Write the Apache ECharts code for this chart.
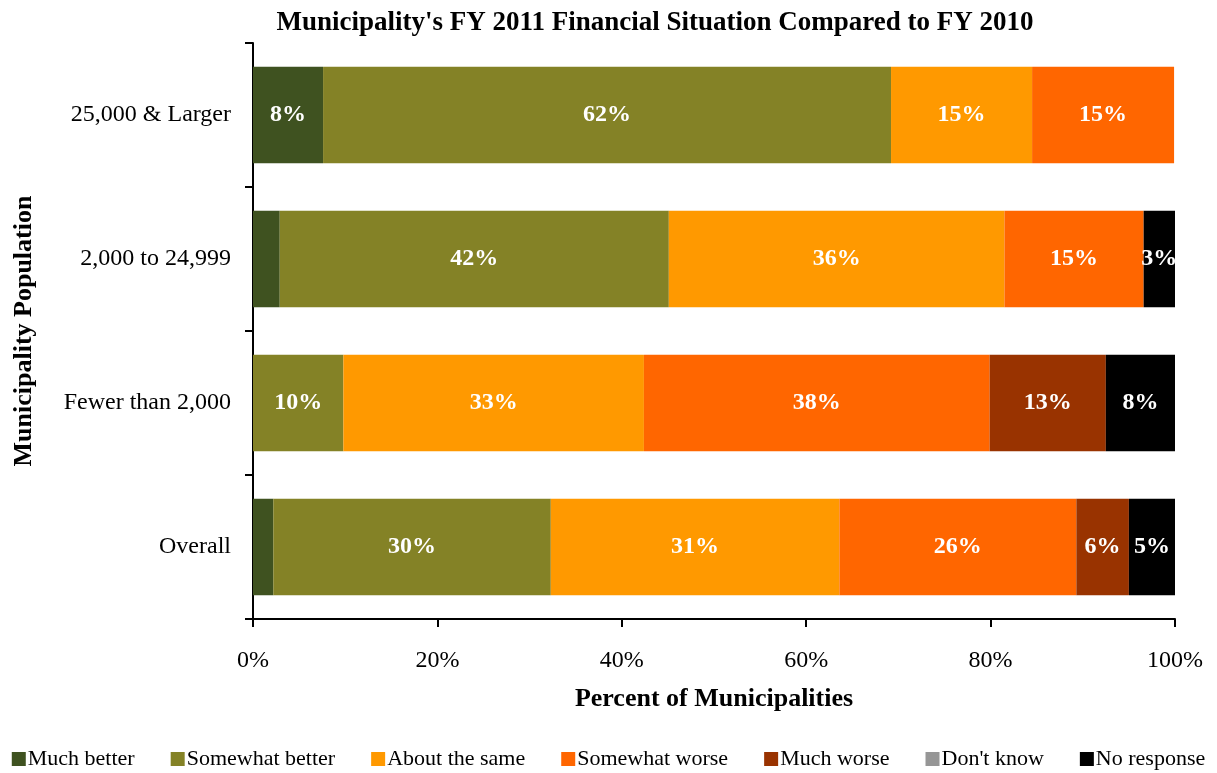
<!DOCTYPE html>
<html><head><meta charset="utf-8">
<script src="https://cdn.jsdelivr.net/npm/echarts@6/dist/echarts.min.js"></script>
<style>html,body{margin:0;padding:0;background:#fff}#c{width:1217px;height:773px}</style>
</head><body><div id="c"></div>
<script>
const categories = ['Overall', 'Fewer than 2,000', '2,000 to 24,999', '25,000 & Larger'];
const seriesNames = ['Much better', 'Somewhat better', 'About the same', 'Somewhat worse', 'Much worse', "Don't know", 'No response'];
const muchBetter = [2.2, 0, 2.9, 7.6];
const somewhatBetter = [30.1, 9.8, 42.2, 61.6];
const aboutSame = [31.3, 32.6, 36.4, 15.3];
const somewhatWorse = [25.7, 37.5, 15.1, 15.4];
const muchWorse = [5.7, 12.6, 0, 0];
const dontKnow = [0, 0, 0, 0];
const noResponse = [5.0, 7.5, 3.4, 0];
const xTicks = [0, 20, 40, 60, 80, 100];
const colors = ['#3f5220', '#848226', '#ff9900', '#ff6600', '#993300', '#969696', '#000000'];
const allData = [muchBetter, somewhatBetter, aboutSame, somewhatWorse, muchWorse, dontKnow, noResponse];
const FONT = 'Liberation Serif';

const chart = echarts.init(document.getElementById('c'));
chart.setOption({
  animation: false,
  color: colors,
  textStyle: { fontFamily: FONT },
  title: {
    text: "Municipality's FY 2011 Financial Situation Compared to FY 2010",
    left: 650, textAlign: 'center', top: 5,
    textStyle: { fontFamily: FONT, fontSize: 27, fontWeight: 'bold', color: '#000' }
  },
  legend: {
    bottom: -2, left: 'center', itemWidth: 14, itemHeight: 14, itemGap: 36,
    icon: 'rect',
    textStyle: { fontFamily: FONT, fontSize: 22, color: '#000', padding: [0, 0, 0, -3] },
    data: seriesNames
  },
  grid: { left: 253, right: 42, top: 43, bottom: 154, outerBoundsMode: 'none', containLabel: false },
  xAxis: {
    type: 'value', min: 0, max: 100, interval: 20,
    name: 'Percent of Municipalities', nameLocation: 'middle', nameGap: 67,
    nameTextStyle: { fontFamily: FONT, fontSize: 26, fontWeight: 'bold', color: '#000' },
    axisLine: { show: true, lineStyle: { color: '#000', width: 2 } },
    axisTick: { show: true, length: 8, lineStyle: { color: '#000', width: 2 } },
    axisLabel: { formatter: v => xTicks.includes(v) ? v + '%' : '', fontFamily: FONT, fontSize: 24, color: '#000', margin: 30 },
    splitLine: { show: false }
  },
  yAxis: {
    type: 'category', data: categories,
    name: 'Municipality Population', nameLocation: 'middle', nameGap: 216,
    nameTextStyle: { fontFamily: FONT, fontSize: 26, fontWeight: 'bold', color: '#000' },
    axisLine: { show: true, lineStyle: { color: '#000', width: 2 } },
    axisTick: { show: true, length: 8, lineStyle: { color: '#000', width: 2 } },
    axisLabel: { fontFamily: FONT, fontSize: 24, color: '#000', margin: 22 }
  },
  series: seriesNames.map((n, i) => ({
    name: n, type: 'bar', stack: 'total', barWidth: '67%',
    data: allData[i],
    itemStyle: { color: colors[i] },
    label: {
      show: true, position: 'inside', color: '#fff', fontFamily: FONT, fontSize: 24, fontWeight: 'bold',
      formatter: p => p.value >= 3 ? Math.round(p.value) + '%' : ''
    }
  }))
});
</script></body></html>
